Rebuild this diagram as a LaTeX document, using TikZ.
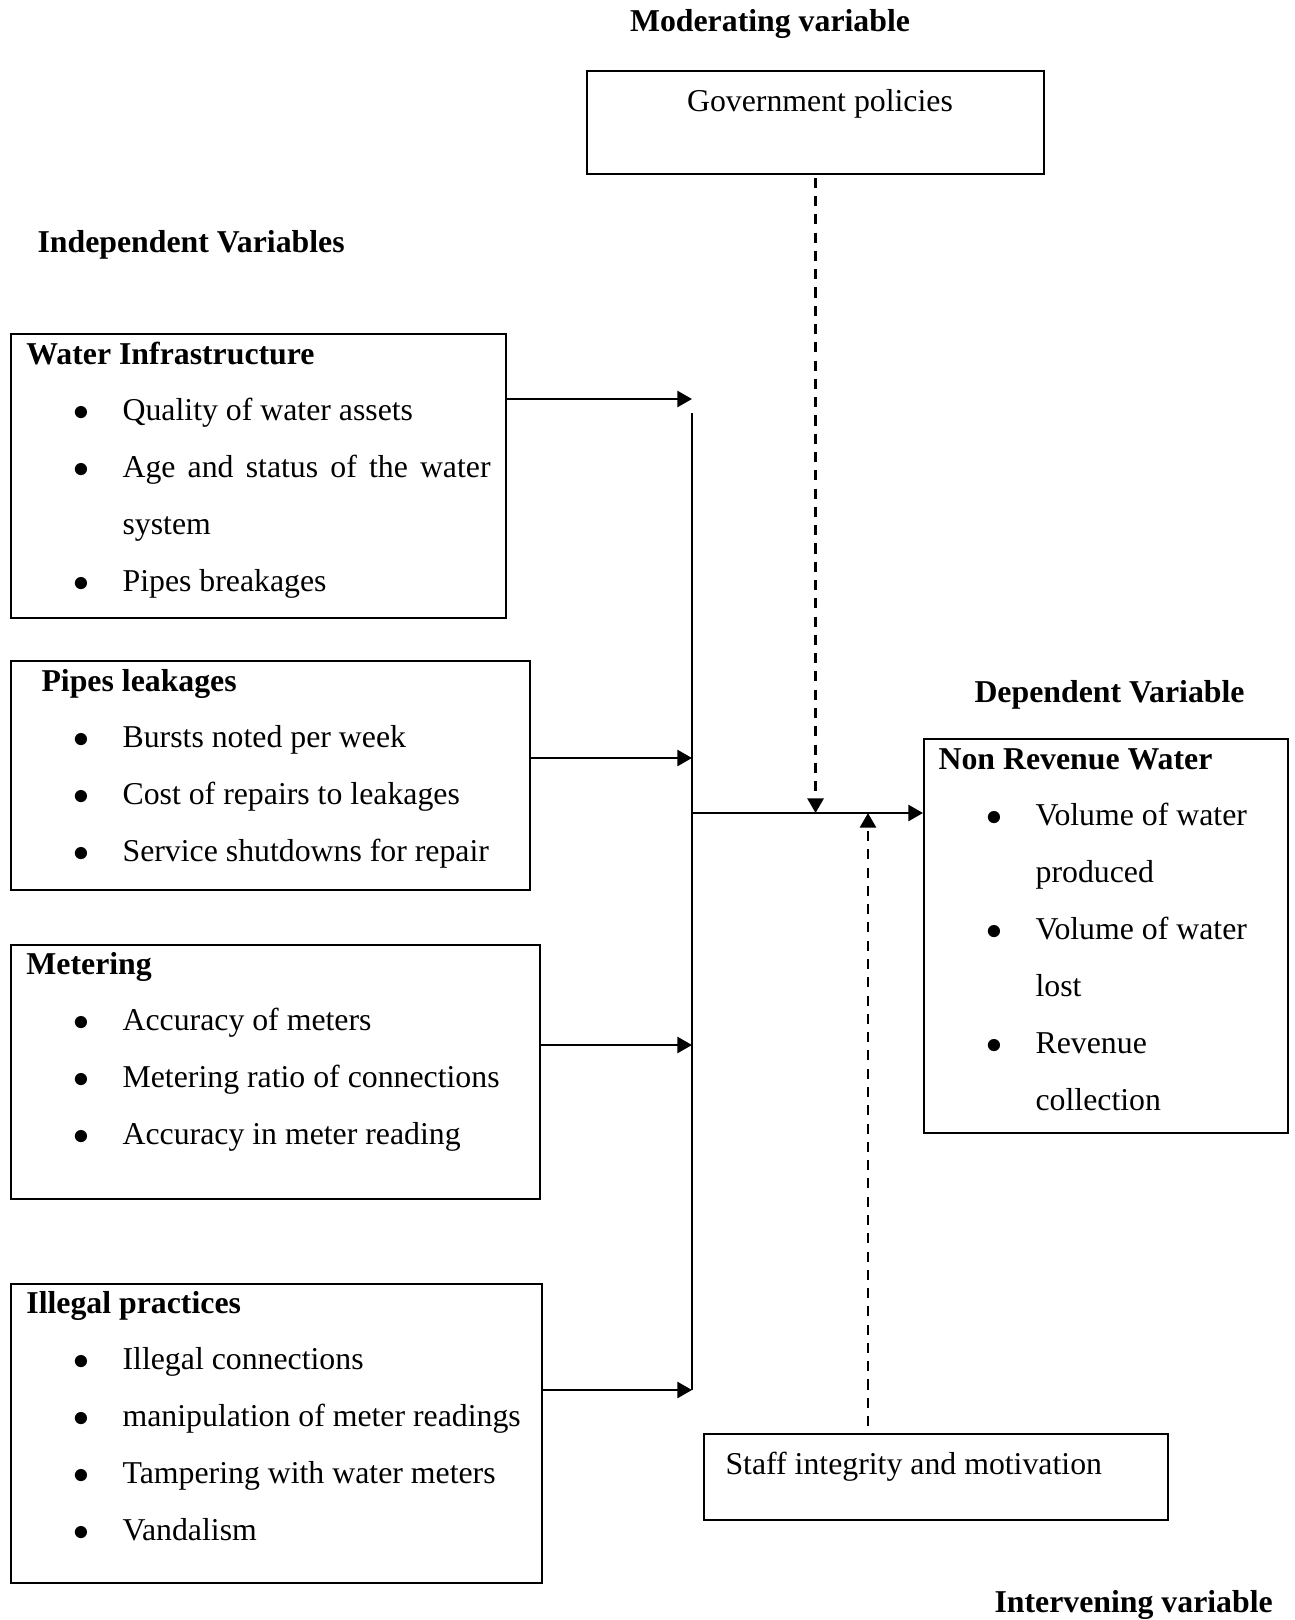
\documentclass[tikz,border=0pt]{standalone}
\usepackage{fontspec}
\setmainfont{Liberation Serif}
\usetikzlibrary{arrows.meta,positioning}
\newcommand{\pxu}{0.3774pt}
\newcommand{\bul}[1]{\hspace*{26.8pt}\makebox[0pt]{$\bullet$}\hspace*{15.5pt}#1}
\newcommand{\cont}[1]{\hspace*{42.3pt}#1}

\begin{document}
\begin{tikzpicture}[
  x=0.3774pt, y=-0.3774pt,
  font=\fontsize{12}{21.5}\selectfont,
  box/.style={draw,line width=0.8pt,inner sep=0pt,anchor=north west},
  txt/.style={anchor=base west,inner sep=0pt,align=flush left,text width=205pt},
  head/.style={font=\fontsize{12}{14}\selectfont\bfseries,inner sep=0pt,anchor=base},
  arr/.style={-{Triangle[length=5.5pt,width=6pt]},line width=1pt},
  darr/.style={arr,line width=1.1pt,dash pattern=on 3.8pt off 3.1pt}
]
\useasboundingbox (0,0) rectangle (1294,1620);

\node[head] (modHead) at (770,31) {Moderating variable};
\node[head,anchor=base west] (indHead) at (37,252) {Independent Variables};
\node[head,anchor=base west] (depHead) at (974,702) {Dependent Variable};
\node[head,anchor=base west] (intHead) at (994,1612) {Intervening variable};

\node[box,minimum width=457*\pxu,minimum height=103*\pxu] (gov) at (586,70) {};
\node[anchor=base,inner sep=0pt] (govTxt) at (820,111) {Government policies};

\node[box,minimum width=495*\pxu,minimum height=284*\pxu] (infra) at (10,333) {};
\node[txt] (infraTxt) at (10,364) {\hspace*{6pt}\textbf{Water Infrastructure}\\
  \bul{Quality of water assets}\\
  \bul{\makebox[138.9pt][s]{Age and status of the water}}\\
  \cont{system}\\
  \bul{Pipes breakages}};

\node[box,minimum width=519*\pxu,minimum height=229*\pxu] (leak) at (10,660) {};
\node[txt] (leakTxt) at (10,691) {\hspace*{11.7pt}\textbf{Pipes leakages}\\
  \bul{Bursts noted per week}\\
  \bul{Cost of repairs to leakages}\\
  \bul{Service shutdowns for repair}};

\node[box,minimum width=529*\pxu,minimum height=254*\pxu] (meter) at (10,944) {};
\node[txt] (meterTxt) at (10,974) {\hspace*{6pt}\textbf{Metering}\\
  \bul{Accuracy of meters}\\
  \bul{Metering ratio of connections}\\
  \bul{Accuracy in meter reading}};

\node[box,minimum width=531*\pxu,minimum height=299*\pxu] (illegal) at (10,1283) {};
\node[txt] (illegalTxt) at (10,1313) {\hspace*{6pt}\textbf{Illegal practices}\\
  \bul{Illegal connections}\\
  \bul{manipulation of meter readings}\\
  \bul{Tampering with water meters}\\
  \bul{Vandalism}};

\node[box,minimum width=364*\pxu,minimum height=394*\pxu] (nrw) at (923,738) {};
\node[txt] (nrwTxt) at (923,769) {\hspace*{5.7pt}\textbf{Non Revenue Water}\\
  \bul{Volume of water}\\
  \cont{produced}\\
  \bul{Volume of water}\\
  \cont{lost}\\
  \bul{Revenue}\\
  \cont{collection}};

\node[box,minimum width=464*\pxu,minimum height=86*\pxu] (staff) at (703,1433) {};
\node[anchor=base west,inner sep=0pt] (staffTxt) at (725,1474) {Staff integrity and motivation};

\coordinate (busTop) at (692,413);
\coordinate (busBot) at (692,1390);
\coordinate (hub) at (692,813);
\coordinate (in1) at (692,399);
\coordinate (in2) at (692,758);
\coordinate (in3) at (692,1045);
\coordinate (stUp) at (868,813);

\draw[line width=0.8pt] (busTop) -- (busBot);
\draw[arr] (infra.east |- in1) -- (in1);
\draw[arr] (leak.east |- in2) -- (in2);
\draw[arr] (meter.east |- in3) -- (in3);
\draw[arr] (illegal.east |- busBot) -- (busBot);
\draw[arr] (hub) -- (nrw.west |- hub);
\draw[darr,shorten <=1pt] (gov.south) -- (gov.south |- hub);
\draw[darr,shorten <=2.6pt] (stUp |- staff.north) -- (stUp);
\end{tikzpicture}
\end{document}
